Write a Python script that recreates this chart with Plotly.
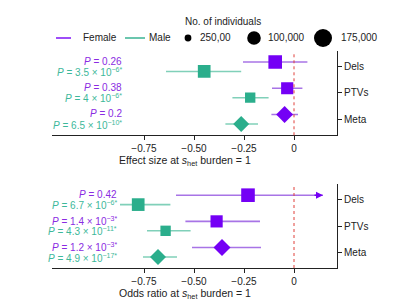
import numpy as np
import plotly.graph_objects as go

# ---------------- data ----------------
categories = ["Dels", "PTVs", "Meta"]
cat_pos = [3, 2, 1]

# top panel: effect size
eff_f_est = [-0.094, -0.034, -0.047]
eff_f_lo = [-0.255, -0.110, -0.113]
eff_f_hi = [0.067, 0.042, 0.020]
eff_m_est = [-0.449, -0.219, -0.264]
eff_m_lo = [-0.640, -0.308, -0.343]
eff_m_hi = [-0.264, -0.127, -0.180]

# bottom panel: odds ratio
or_f_est = [-0.230, -0.387, -0.360]
or_f_lo = [-0.590, -0.543, -0.510]
or_f_hi = [0.145, -0.170, -0.165]
or_m_est = [-0.779, -0.642, -0.680]
or_m_lo = [-0.870, -0.735, -0.755]
or_m_hi = [-0.618, -0.517, -0.585]

# number of individuals (marker size)
n_female = [100000, 80000, 92000]
n_male = [87000, 58000, 82000]
legend_n = [25000, 100000, 175000]
legend_n_labels = ["250,00", "100,000", "175,000"]

eff_p_f = ["<i>P</i> = 0.26", "<i>P</i> = 0.38", "<i>P</i> = 0.2"]
eff_p_m = ["<i>P</i> = 3.5 × 10<sup>−6*</sup>", "<i>P</i> = 4 × 10<sup>−6*</sup>",
           "<i>P</i> = 6.5 × 10<sup>−10*</sup>"]
or_p_f = ["<i>P</i> = 0.42", "<i>P</i> = 1.4 × 10<sup>−3*</sup>",
          "<i>P</i> = 1.2 × 10<sup>−3*</sup>"]
or_p_m = ["<i>P</i> = 6.7 × 10<sup>−6*</sup>", "<i>P</i> = 4.3 × 10<sup>−11*</sup>",
          "<i>P</i> = 4.9 × 10<sup>−17*</sup>"]

x_ticks = [-0.75, -0.5, -0.25, 0]
x_tick_text = ["−0.75", "−0.50", "−0.25", "0"]

# ---------------- style ----------------
FONT = "Liberation Sans, Arial, Helvetica, sans-serif"
PURPLE = "#7400f5"
PURPLE_LINE = "#a874e6"
PURPLE_TEXT = "#8a2be2"
TEAL = "#2bae8c"
TEAL_LINE = "#80d0b9"
TEAL_TEXT = "#3db89a"
AXIS = "#222222"
OFF = 0.18
LOFF = 0.205
SYMBOLS = ["square", "square", "diamond"]
W, H = 400, 300


def msize(n):
    return list(18 * np.sqrt(np.array(n) / 175000.0))


fig = go.Figure()


def add_panel(xa, ya, f_est, f_lo, f_hi, m_est, m_lo, m_hi):
    for est, lo, hi, n, off, col, lcol in [
        (m_est, m_lo, m_hi, n_male, -OFF, TEAL, TEAL_LINE),
        (f_est, f_lo, f_hi, n_female, OFF, PURPLE, PURPLE_LINE),
    ]:
        xs, ys = [], []
        for l, h, c in zip(lo, hi, cat_pos):
            xs += [l, h, None]
            ys += [c + off, c + off, None]
        fig.add_trace(go.Scatter(x=xs, y=ys, xaxis=xa, yaxis=ya, mode="lines",
                                 showlegend=False, line=dict(color=lcol, width=1.6)))
        fig.add_trace(go.Scatter(
            x=est, y=[c + off for c in cat_pos], xaxis=xa, yaxis=ya,
            mode="markers", showlegend=False,
            marker=dict(symbol=SYMBOLS, size=msize(n), color=col, opacity=1,
                        line=dict(width=0)),
        ))


add_panel("x", "y", eff_f_est, eff_f_lo, eff_f_hi, eff_m_est, eff_m_lo, eff_m_hi)
add_panel("x2", "y2", or_f_est, or_f_lo, or_f_hi, or_m_est, or_m_lo, or_m_hi)

x_left, x_right = 44 / W, 329 / W
xrange = [(44 - 286) / 200, (329 - 286) / 200]
top_dom = [1 - 127.3 / H, 1 - 43.3 / H]
bot_dom = [1 - 260 / H, 1 - 176 / H]

xcommon = dict(range=xrange, domain=[x_left, x_right], showline=True, linecolor=AXIS,
               linewidth=1, ticks="outside", ticklen=4, tickcolor=AXIS,
               tickvals=x_ticks, ticktext=x_tick_text, showgrid=False, zeroline=False,
               tickfont=dict(family=FONT, size=10, color=AXIS), fixedrange=True)
ycommon = dict(side="right", showline=True, linecolor=AXIS, linewidth=1, ticks="outside",
               ticklen=4, tickcolor=AXIS, tickvals=cat_pos, ticktext=categories,
               showgrid=False, zeroline=False,
               tickfont=dict(family=FONT, size=10, color=AXIS), fixedrange=True)

fig.update_layout(
    width=W, height=H, margin=dict(l=0, r=0, t=0, b=0),
    paper_bgcolor="white", plot_bgcolor="white",
    font=dict(family=FONT, size=10, color=AXIS),
    xaxis=dict(**xcommon, anchor="y"),
    yaxis=dict(**ycommon, domain=top_dom, range=[0.387, 3.587], anchor="x"),
    xaxis2=dict(**xcommon, anchor="y2"),
    yaxis2=dict(**ycommon, domain=bot_dom, range=[0.40, 3.607], anchor="x2"),
)

# red dotted zero lines
for xr, yr in [("x", "y domain"), ("x2", "y2 domain")]:
    fig.add_shape(type="line", xref=xr, yref=yr, x0=0, x1=0, y0=0, y1=1,
                  line=dict(color="#e0403a", width=1, dash="dot"), layer="above")

# arrow for clipped CI
fig.add_annotation(x=or_f_hi[0], y=cat_pos[0] + OFF, xref="x2", yref="y2",
                   ax=or_f_hi[0] - 0.05, ay=cat_pos[0] + OFF, axref="x2", ayref="y2",
                   showarrow=True, arrowhead=2, arrowsize=1, arrowwidth=1.4,
                   arrowcolor=PURPLE, text="")

# P value labels
for labels_f, labels_m, yr, xpos in [(eff_p_f, eff_p_m, "y", 115.5 / W),
                                     (or_p_f, or_p_m, "y2", 110.5 / W)]:
    for c, tf, tm in zip(cat_pos, labels_f, labels_m):
        fig.add_annotation(x=xpos, y=c + LOFF, xref="paper", yref=yr, text=tf,
                           showarrow=False, xanchor="right", yanchor="middle",
                           font=dict(family=FONT, size=10, color=PURPLE_TEXT))
        fig.add_annotation(x=xpos, y=c - LOFF, xref="paper", yref=yr, text=tm,
                           showarrow=False, xanchor="right", yanchor="middle",
                           font=dict(family=FONT, size=10, color=TEAL_TEXT))

# axis titles
fig.add_annotation(x=177 / W, y=1 - 153 / H, xref="paper", yref="paper",
                   text="Effect size at <i>s</i><sub>het</sub> burden = 1", showarrow=False,
                   xanchor="center", yanchor="middle", font=dict(family=FONT, size=10.5, color=AXIS))
fig.add_annotation(x=177 / W, y=1 - 285.5 / H, xref="paper", yref="paper",
                   text="Odds ratio at <i>s</i><sub>het</sub> burden = 1", showarrow=False,
                   xanchor="center", yanchor="middle", font=dict(family=FONT, size=10.5, color=AXIS))

# legend
ly = 1 - 30 / H
fig.add_annotation(x=215 / W, y=1 - 13 / H, xref="paper", yref="paper",
                   text="No. of individuals", showarrow=False, xanchor="center",
                   yanchor="middle", font=dict(family=FONT, size=10, color=AXIS))
for x0, x1, col, lab, tx in [(48, 63, PURPLE, "Female", 73), (117, 137, TEAL, "Male", 139)]:
    fig.add_shape(type="line", xref="paper", yref="paper", x0=x0 / W, x1=x1 / W,
                  y0=ly, y1=ly, line=dict(color=col, width=1.4))
    fig.add_annotation(x=tx / W, y=ly, xref="paper", yref="paper", text=lab,
                       showarrow=False, xanchor="left", yanchor="middle",
                       font=dict(family=FONT, size=10, color=AXIS))
for n, lab, cx, tx in zip(legend_n, legend_n_labels, [180, 246, 315], [190, 258, 331]):
    r = 18 * np.sqrt(n / 175000.0) / 2
    fig.add_shape(type="circle", xref="paper", yref="paper", xsizemode="pixel",
                  ysizemode="pixel", xanchor=cx / W, yanchor=ly, x0=-r, x1=r, y0=-r, y1=r,
                  fillcolor="black", line=dict(width=0))
    fig.add_annotation(x=tx / W, y=ly, xref="paper", yref="paper", text=lab,
                       showarrow=False, xanchor="left", yanchor="middle",
                       font=dict(family=FONT, size=10, color=AXIS))

fig.write_html("out.html")
